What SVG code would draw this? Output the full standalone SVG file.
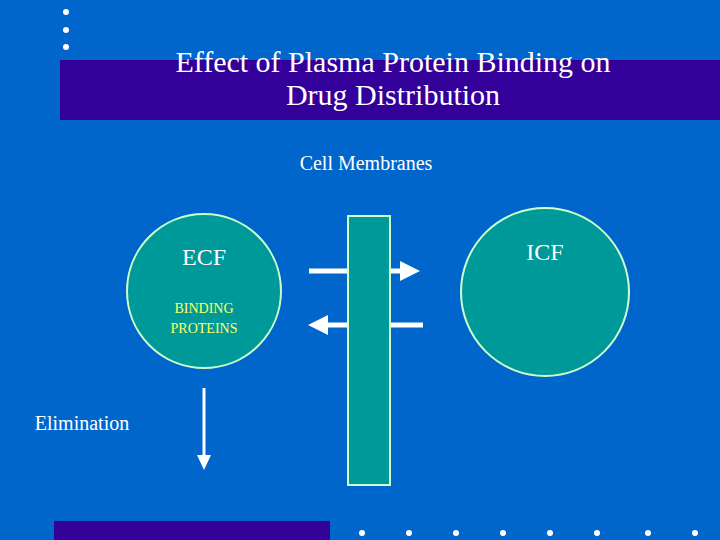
<svg xmlns="http://www.w3.org/2000/svg" width="720" height="540" viewBox="0 0 720 540">
<style>
.t{font-family:"Liberation Serif",serif;}
.ln{stroke:#fff;stroke-width:5;fill:none}
.dot{fill:#fff}
</style>
<defs>
<marker id="ah" markerWidth="4" markerHeight="4" refX="2" refY="2" orient="auto" markerUnits="strokeWidth"><path d="M0,0L4,2L0,4z" fill="#fff"/></marker>
</defs>
<rect width="720" height="540" fill="#0066cc"/>
<rect x="60" y="60" width="660" height="60" fill="#330099"/>
<rect x="54" y="521" width="276" height="19" fill="#330099"/>
<g class="dot"><circle cx="66" cy="12" r="3"/><circle cx="66" cy="30" r="3"/><circle cx="66" cy="47" r="3"/>
<circle cx="362" cy="533" r="3"/><circle cx="409" cy="533" r="3"/><circle cx="456" cy="533" r="3"/><circle cx="503" cy="533" r="3"/><circle cx="550" cy="533" r="3"/><circle cx="597" cy="533" r="3"/><circle cx="648" cy="533" r="3"/><circle cx="695" cy="533" r="3"/></g>
<text class="t" x="393" y="72" font-size="30" fill="#fff" text-anchor="middle">Effect of Plasma Protein Binding on</text>
<text class="t" x="393" y="105" font-size="30" fill="#fff" text-anchor="middle">Drug Distribution</text>
<text class="t" x="366" y="170" font-size="20" fill="#fff" text-anchor="middle">Cell Membranes</text>
<g id="ecf"><circle cx="204" cy="291" r="77" fill="#009999" stroke="#ccffcc" stroke-width="2"/>
<text class="t" x="204" y="265" font-size="24" fill="#fff" text-anchor="middle">ECF</text>
<text class="t" x="204" y="313" font-size="14" fill="#ffff66" text-anchor="middle">BINDING</text>
<text class="t" x="204" y="333" font-size="14" fill="#ffff66" text-anchor="middle">PROTEINS</text></g>
<g id="icf"><circle cx="545" cy="292" r="84" fill="#009999" stroke="#ccffcc" stroke-width="2"/>
<text class="t" x="545" y="260" font-size="24" fill="#fff" text-anchor="middle">ICF</text></g>
<g id="membrane"><rect x="348" y="216" width="42" height="269" fill="#009999" stroke="#ccffcc" stroke-width="2"/></g>
<text id="elim" class="t" x="82" y="430" font-size="20" fill="#fff" text-anchor="middle">Elimination</text>
<g id="connectors">
<path class="ln" d="M309,271H347"/><path class="ln" d="M391,271H410" marker-end="url(#ah)"/>
<path class="ln" d="M423,325H391"/><path class="ln" d="M347,325H318" marker-end="url(#ah)"/>
<path d="M204,388V455" stroke="#fff" stroke-width="3" fill="none"/><path d="M197,455L204,470L211,455z" fill="#fff"/>
</g>
</svg>
